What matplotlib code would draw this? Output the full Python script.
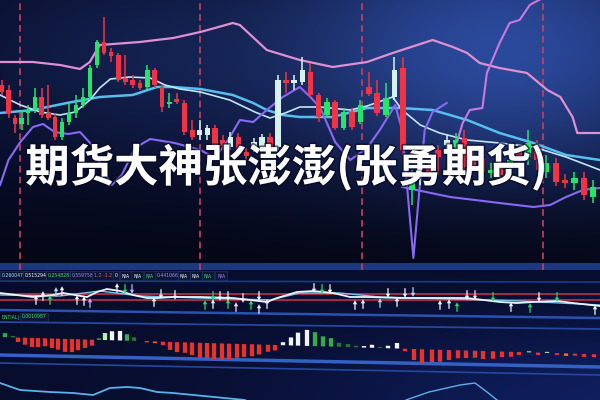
import numpy as np
import matplotlib
matplotlib.use("Agg")
import matplotlib.pyplot as plt
from matplotlib.path import Path
from matplotlib.markers import MarkerStyle
from matplotlib.transforms import Affine2D
import matplotlib.patheffects as pe

# ---------------- data ----------------
title_text = "期货大神张澎澎(张勇期货)"

# candlesticks: bar number = list position, prices in chart units
c_open = [178, 157, 146, 152, 160, 173, 155, 152, 133, 148,
          157, 165, 173, 202, 228, 217, 214, 190, 188, 185,
          182, 200, 185, 163, 168, 168, 138, 133, 140, 142,
          125, 124, 133, 118, 114, 128, 133, 123, 190, 187,
          190, 200, 175, 153, 168, 142, 158, 143, 165, 176,
          157, 172, 200, 120, 90, 98, 98, 113, 130, 130,
          103, 103, 98, 100, 95, 110, 112, 127, 110, 107,
          88, 87, 92, 75, 83]
c_close = [185, 180, 152, 146, 157, 160, 173, 157, 153, 133,
           148, 157, 165, 173, 205, 228, 218, 215, 192, 190,
           187, 183, 200, 183, 166, 171, 167, 140, 135, 135,
           142, 130, 123, 133, 118, 123, 123, 133, 123, 190,
           187, 188, 198, 175, 155, 168, 142, 158, 148, 183,
           177, 155, 173, 202, 80, 93, 105, 120, 125, 123,
           132, 115, 112, 97, 105, 102, 120, 113, 123, 98,
           107, 90, 87, 92, 73]
c_high = [190, 185, 155, 160, 165, 182, 182, 185, 157, 152,
          167, 175, 182, 205, 230, 253, 222, 217, 215, 195,
          190, 205, 202, 185, 177, 177, 170, 150, 150, 145,
          145, 135, 138, 137, 122, 132, 136, 137, 195, 198,
          195, 213, 207, 177, 172, 170, 162, 162, 170, 198,
          190, 187, 213, 213, 100, 105, 110, 125, 135, 137,
          140, 120, 118, 107, 110, 115, 125, 140, 130, 115,
          112, 96, 98, 98, 90]
c_low = [175, 152, 137, 140, 145, 157, 152, 150, 130, 130,
         145, 152, 162, 170, 202, 215, 208, 188, 185, 182,
         180, 180, 182, 158, 162, 166, 135, 130, 130, 130,
         122, 120, 120, 115, 110, 118, 120, 120, 120, 177,
         180, 185, 173, 148, 152, 140, 140, 140, 146, 174,
         154, 153, 170, 115, 65, 85, 92, 95, 120, 118,
         98, 100, 92, 92, 90, 98, 108, 105, 100, 92,
         84, 82, 80, 70, 67]
c_kind = list("rrrgggrrrggggggrrrrrrgrrgrrrwwrrwrrwwrwrwwrrgrgrgrrgwrgwrrwgrrrgrgrgrgrrgrg")

# overlay lines (sample time in bar numbers, value in price units)
pink_t = [-0.3, 4.7, 8.7, 11.6, 13.0, 14.4, 20.0, 24.5, 28.1, 32.3, 33.2, 36.6, 40.7, 44.7,
          48.8, 51.8, 56.4, 58.7, 60.3, 61.7, 63.9, 66.9, 69.1, 70.5, 71.8, 72.3, 74.7]
pink_v = [208, 208, 205, 201, 208, 225, 228, 232, 238, 247, 245, 220, 210, 203,
          208, 217, 230, 223, 217, 207, 202, 197, 180, 173, 153, 137, 137]

mid_t = [-0.3, 4.7, 9.7, 14.4, 19.0, 22.3, 24.5, 28.1, 32.3, 34.9, 36.6, 38.6, 40.7, 44.7,
         48.8, 52.7, 56.4, 60.3, 63.9, 67.6, 71.1, 74.7]
mid_v = [157, 160, 167, 173, 175, 183, 183, 181, 175, 167, 160, 155, 153, 153,
         162, 162, 160, 150, 137, 127, 115, 110]

fast_t = [-0.3, 2.8, 5.8, 8.7, 10.9, 13.0, 14.4, 15.9, 18.6, 21.4, 23.4, 25.4, 28.1, 31.9, 35.1,
          37.0, 38.9, 40.7, 43.2, 46.8, 48.8, 51.8, 52.9, 55.0, 57.2, 60.3, 63.9, 67.6, 71.1, 74.7]
fast_v = [175, 165, 158, 155, 158, 170, 182, 191, 193, 192, 185, 181, 178, 170, 158,
          152, 157, 163, 163, 160, 164, 173, 160, 145, 137, 130, 127, 123, 113, 100]

low_t = [-0.3, 1.0, 2.8, 4.7, 6.2, 7.9, 9.9, 11.6, 13.3, 14.9, 16.1, 17.5, 19.3, 21.4, 24.7,
         28.1, 30.0, 31.7, 33.2, 34.9, 36.6, 38.6, 40.7, 42.0, 43.2, 44.0, 45.0, 46.8, 48.8,
         50.3, 52.1, 52.9, 54.2, 55.5, 56.4, 58.0]
low_v = [85, 110, 128, 143, 146, 138, 136, 138, 125, 100, 85, 95, 122, 131, 127,
         120, 112, 130, 150, 148, 160, 173, 183, 173, 162, 147, 128, 110, 122,
         140, 165, 140, 12, 140, 158, 167]

spike_t = [58.9, 59.8, 60.6, 62.0, 62.5, 63.9, 65.0, 66.1, 67.2, 68.8]
spike_v = [120, 147, 160, 162, 197, 227, 247, 250, 265, 273]

band_t = [52.9, 58.4, 63.9, 67.6, 69.4, 71.1, 72.9, 74.7]
band_v = [83, 73, 67, 63, 65, 73, 80, 82]

sep_t = [2.8, 28.1, 48.2, 68.6]

# indicator strip
ind_x = [0, 33, 53, 63, 87, 97, 107, 120, 133, 147, 157, 173, 200, 233, 267, 277, 297, 313,
         333, 350, 367, 400, 433, 467, 500, 517, 533, 557, 573, 600]
ind_v = [7, 3, 5, 7, 3, 8, 11, 9, 5, 2, 2, 3, 3, 2, -2, 2, 8, 9,
         7, 3, 3, 2, 2, 2, -2, -3, -2, -1, -3, -6]
ind2_x = [0, 60, 100, 140, 200, 270, 300, 340, 380, 450, 520, 600]
ind2_v = [5, 4, 9, 4, 2, 0, 7, 7, 3, 1, -1, -5]
ind_levels = [6, 0.5]

arr_x = [36, 43, 50, 56, 62, 77, 84, 90, 117, 125, 132, 154, 161, 175, 205, 213, 213, 220,
         228, 228, 236, 243, 251, 259, 259, 267, 314, 322, 330, 355, 363, 380, 388, 397,
         405, 413, 440, 449, 457, 467, 475, 493, 511, 530, 539, 557, 595]
arr_v = [0, 4, 0, 8, 9, 0, -1, -3, 12, 11, 11, -2, 6, 5, -5, 4, -4, 4,
         4, -4, -7, 2, -5, 4, -9, -4, 12, 11, 11, -5, -4, -3, 7, -2,
         7, 8, -5, -4, -7, 5, 5, 3, -7, -8, 3, 3, -10]
arr_dir = list("uuuuuuuuuddududuuddduuduudududddduuududuuudduduud")[:0]
arr_dir = ["u", "u", "u", "u", "u", "u", "u", "u", "u", "d", "d", "u", "d", "d", "u", "d", "u", "d",
           "d", "u", "u", "d", "u", "d", "u", "u", "d", "d", "d", "u", "u", "u", "d", "u",
           "d", "d", "u", "u", "u", "d", "d", "d", "u", "u", "d", "d", "u"]
arr_col = ["w", "w", "g", "c", "w", "w", "w", "p", "w", "g", "p", "w", "w", "w", "g", "g", "w", "w",
           "w", "g", "k", "w", "g", "w", "w", "w", "w", "g", "w", "w", "w", "c", "w", "w",
           "w", "c", "w", "w", "g", "w", "k", "g", "w", "g", "w", "g", "w"]

label_texts = ["0.260047", "0.515294", "0.2548281", "0.559758", "1.2 -1.2", "0", "N/A", "N/A",
               "N/A", "0.441066", "N/A", "N/A", "N/A", "N/A"]
label_cols = ["#a8e4ff", "#ffffff", "#45e265", "#a58bff", "#ff5a5a", "#ffffff", "#ffffff", "#ffffff",
              "#45e265", "#a58bff", "#ffffff", "#ffffff", "#45e265", "#a58bff"]
label2_texts = ["ENTIAL)", "0.0010987"]

# histogram
hist_x = [5, 13, 18, 25, 32, 38, 45, 52, 58, 65, 72, 78, 85, 92, 99, 105, 112, 120, 127, 134,
          147, 155, 163, 170, 177, 185, 192, 200, 207, 214, 222, 229, 237, 244, 252, 259, 268, 275,
          283, 291, 298, 307, 315, 323, 331, 339, 348, 356, 364, 372, 380, 388, 397, 405, 414, 422,
          432, 440, 449, 458, 466, 475, 483, 493, 502, 511, 519, 529, 538, 547, 557, 566, 575, 584, 594]
hist_v = [4, 1.5, -4.5, -7, -9, -9, -8, -9.5, -11, -13, -13, -11, -8.5, -6, 1.5, 7, 9, 9.5, 6.5, 3.5,
          -1, -1.5, -3.5, -8, -10, -10.5, -12.5, -15, -15, -16, -16.5, -15.5, -14, -13, -12, -10, -7, -5.5,
          3, 8, 13, 16, 14, 10, 8.5, 4, 3, 1.5, 1.5, 3, 1, 2.5, 5.5, -2.5, -11, -14,
          -12.5, -12, -10, -8, -7.5, -7, -8, -7.5, -5.5, -5, -3, 1, -2.5, 1, -2, -2.5, -2, -3, -3]
hist_k = list("gd" + "r" * 11 + "pglwwgdoo" + "r" * 16 + "wwwwgggdddwwdww" + "r" + "r" * 13 + "lrlrorrr")

osc1_x = [0, 20, 50, 73, 93, 110, 127, 140, 157, 173, 214, 245]
osc1_v = [17, 10, 8, 7, 5, 12, 13, 12, 8, 7, 3, 0]
osc2_x = [406, 429, 460, 475, 487, 497]
osc2_v = [0, 8, 15, 17, 8, 0]

# ---------------- figure ----------------
fig = plt.figure(figsize=(6, 4), dpi=100)

# background
ax_bg = fig.add_axes([0, 0, 1, 1])
ax_bg.set_xlim(0, 600)
ax_bg.set_ylim(400, 0)
ax_bg.axis("off")
yy, xx = np.mgrid[0:400, 0:600] + 0.5
dark = np.array([0.03, 0.05, 0.16])
glow = np.array([0.14, 0.24, 0.45])
w1 = np.exp(-((xx - 500) / 230) ** 2 - ((yy - 50) / 130) ** 2)
w2 = 0.25 * np.exp(-((xx - 120) / 160) ** 2 - ((yy - 60) / 90) ** 2)
top = dark + (w1 + w2)[..., None] * glow
fade = np.clip((yy - 150) / 100, 0, 1)[..., None]
top = top * (1 - 0.45 * fade)
lower = np.array([0.03, 0.05, 0.17]) + np.exp(-((xx - 650) / 350) ** 2 - ((yy - 400) / 80) ** 2)[..., None] * np.array([0.03, 0.07, 0.2])
img = np.where((yy < 263)[..., None], top, lower)
bandm = (yy >= 263) & (yy < 270)
img[bandm] = np.array([0.11, 0.22, 0.50])
ax_bg.imshow(np.clip(img, 0, 1), extent=(0, 600, 400, 0), aspect="auto", interpolation="bilinear")
for y0, y1, col, lw in [(281, 282, "#1d3a88", 1.2), (310, 318, "#2a52b0", 1.8), (322, 329, "#2448a0", 1.3),
                        (355, 367, "#3462c4", 2.5), (363, 375, "#2448a0", 1.2)]:
    ax_bg.plot([0, 600], [y0, y1], color=col, lw=lw, solid_capstyle="butt")

label_x = [2, 25, 48, 72, 94, 115, 122, 133, 146, 157, 180, 192, 204, 217]
for x, s, col in zip(label_x, label_texts, label_cols):
    ax_bg.text(x, 275.5, s, fontsize=3.3, color=col, va="center", ha="left",
               bbox=dict(boxstyle="square,pad=0.35", fc="#0c1536", ec="#26386c", lw=0.4))
ax_bg.text(1, 317, label2_texts[0], fontsize=3.3, color="#45e265", va="center", ha="left")
ax_bg.text(22, 317, label2_texts[1], fontsize=3.3, color="#45e265", va="center", ha="left",
           bbox=dict(boxstyle="square,pad=0.35", fc="#0c1536", ec="#26386c", lw=0.4))

# price panel with perspective-like widening bar spacing
B, C = 6.492, 0.02026


def fwd(i):
    i = np.asarray(i, dtype=float)
    return B * i + C * i * np.abs(i)


def inv(u):
    u = np.asarray(u, dtype=float)
    return np.sign(u) * (-B + np.sqrt(B * B + 4 * C * np.abs(u))) / (2 * C)


ax = fig.add_axes([0, 130 / 400, 1, 270 / 400])
ax.set_xscale("function", functions=(fwd, inv))
ax.set_xlim(float(inv(-2)), float(inv(598)))
ax.set_ylim(0, 270)
ax.axis("off")
ax.patch.set_visible(False)

ax.vlines(sep_t, 0, 270, colors="#c8405e", lw=1.2, linestyles=(0, (4, 2.5)), zorder=1)

ccol = {"r": "#ef3446", "g": "#26e46a", "w": "#d6f2f0"}
idx = np.arange(len(c_open))
o = np.array(c_open, float)
c = np.array(c_close, float)
cols = [ccol[k] for k in c_kind]
ax.vlines(idx, c_low, c_high, colors=cols, lw=1.1, zorder=3)
ax.bar(idx, np.maximum(np.abs(c - o), 1.2), bottom=np.minimum(o, c), width=0.66,
       color=cols, edgecolor="none", zorder=4)

ax.plot(pink_t, pink_v, color="#e08fd2", lw=1.6, zorder=2)
ax.plot(mid_t, mid_v, color="#55bff0", lw=1.8, zorder=2)
ax.plot(fast_t, fast_v, color="#bfe6fb", lw=1.2, zorder=2)
ax.plot(low_t, low_v, color="#8a68f5", lw=1.5, zorder=2)
ax.plot(spike_t, spike_v, color="#c77ae0", lw=1.5, zorder=2)
ax.plot(band_t, band_v, color="#8a68f5", lw=1.5, zorder=2)

# indicator strip
axi = fig.add_axes([0, 84 / 400, 1, 40 / 400])
axi.set_xlim(0, 600)
axi.set_ylim(-16, 24)
axi.axis("off")
axi.patch.set_visible(False)
for lv in ind_levels:
    axi.axhline(lv, color="#c2304c", lw=1.2)
axi.plot(ind2_x, ind2_v, color="#6fc6ee", lw=1.0)
axi.plot(ind_x, ind_v, color="#e8f4ff", lw=1.3)

up_path = Path([(-0.45, 0.15), (0, 1), (0.45, 0.15), (-0.45, 0.15),
                (-0.13, 0.15), (0.13, 0.15), (0.13, -1), (-0.13, -1), (-0.13, 0.15)],
               [Path.MOVETO, Path.LINETO, Path.LINETO, Path.CLOSEPOLY,
                Path.MOVETO, Path.LINETO, Path.LINETO, Path.LINETO, Path.CLOSEPOLY])
down_path = Path(up_path.vertices * np.array([1, -1]), up_path.codes)
acol = {"w": "#f2f6ff", "g": "#22dd66", "c": "#9fe2f2", "p": "#c8a8ff", "k": "#f4d6f4"}
for d, path in (("u", up_path), ("d", down_path)):
    sel = [j for j in range(len(arr_x)) if arr_dir[j] == d]
    axi.scatter([arr_x[j] for j in sel], [arr_v[j] for j in sel], marker=MarkerStyle(path),
                s=48, c=[acol[arr_col[j]] for j in sel], linewidths=0, zorder=5)

# histogram (baseline sloping in the photo)
axh = fig.add_axes([0, 28 / 400, 1, 54 / 400])
axh.set_xlim(0, 600)
axh.set_ylim(-35, 19)
axh.axis("off")
axh.patch.set_visible(False)
hcol = {"r": "#e8322c", "p": "#e0305a", "o": "#ff6a1a", "g": "#2fae4a", "d": "#1f7a35",
        "l": "#b8f0b0", "w": "#f4f4f4"}
skew = Affine2D().skew(0, np.arctan(-0.029))
bars = axh.bar(hist_x, hist_v, width=4.3, color=[hcol[k] for k in hist_k], edgecolor="none")
for p in bars:
    p.set_transform(axh.transData + skew)

# bottom oscillator
axo = fig.add_axes([0, 0, 1, 30 / 400])
axo.set_xlim(0, 600)
axo.set_ylim(0, 30)
axo.axis("off")
axo.patch.set_visible(False)
axo.plot(osc1_x, osc1_v, color="#5ab2ea", lw=1.3, clip_on=False)
axo.plot(osc2_x, osc2_v, color="#5ab2ea", lw=1.0, clip_on=False)

# title
fig.text(0.042, 0.58, title_text, fontsize=32, fontweight="bold", color="white",
         family=["Noto Sans CJK SC", "DejaVu Sans"], va="center", ha="left", zorder=10,
         path_effects=[pe.withStroke(linewidth=2.5, foreground=(0.02, 0.03, 0.12, 0.6))])

fig.savefig("out.png", dpi=100)
